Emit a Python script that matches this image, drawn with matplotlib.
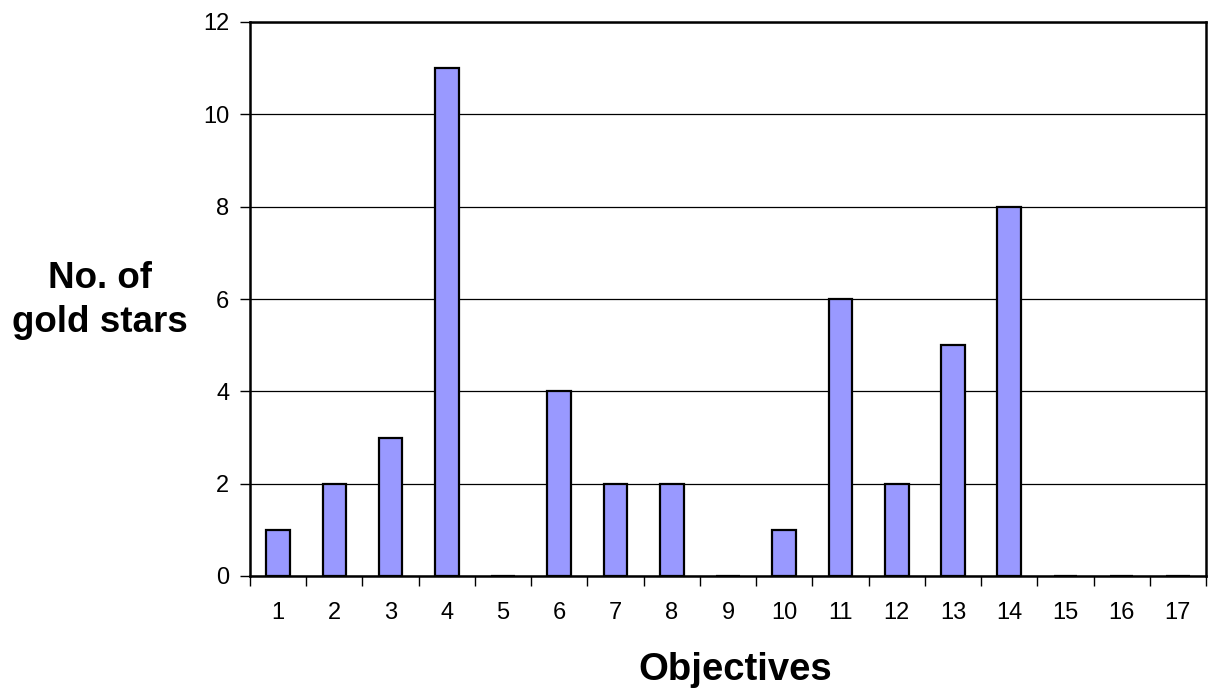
import numpy as np
import matplotlib.pyplot as plt
from matplotlib.ticker import FixedLocator, NullFormatter

# Data
objectives = [str(i) for i in range(1, 18)]
gold_stars = [1, 2, 3, 11, 0, 4, 2, 2, 0, 1, 6, 2, 5, 8, 0, 0, 0]

plt.rcParams['font.family'] = ['Liberation Sans', 'DejaVu Sans']

W, H = 1208, 691
fig = plt.figure(figsize=(W / 100, H / 100), dpi=100)
ax = fig.add_axes([250 / W, 1 - 576 / H, 956 / W, 554 / H])

x = np.arange(len(objectives))
ax.bar(x, gold_stars, width=0.42, color='#9999FF', edgecolor='black', linewidth=1.6, zorder=2)

ax.set_xlim(-0.5, len(objectives) - 0.5)
ax.set_ylim(0, 12)
ax.set_yticks(range(0, 13, 2))
ax.set_axisbelow(True)
ax.yaxis.grid(True, color='black', linewidth=0.9)

# category labels centred, tick marks between categories
ax.set_xticks(x)
ax.set_xticklabels(objectives)
ax.tick_params(axis='x', which='major', length=0, pad=19, labelsize=17)
ax.xaxis.set_minor_locator(FixedLocator(np.arange(-0.5, len(objectives), 1)))
ax.xaxis.set_minor_formatter(NullFormatter())
ax.tick_params(axis='x', which='minor', length=7, width=1.0, direction='out')
ax.tick_params(axis='y', length=7, width=1.0, direction='out', labelsize=17, pad=8)

for s in ax.spines.values():
    s.set_linewidth(1.8)
    s.set_color('black')

# axis titles
fig.text(735 / W, 1 - 680 / H, 'Objectives', fontsize=27.5, fontweight='bold',
         ha='center', va='baseline')
fig.text(100 / W, 1 - 288 / H, 'No. of', fontsize=26.5, fontweight='bold',
         ha='center', va='baseline')
fig.text(100 / W, 1 - 332 / H, 'gold stars', fontsize=26.5, fontweight='bold',
         ha='center', va='baseline')

fig.savefig('out.png', dpi=100)
